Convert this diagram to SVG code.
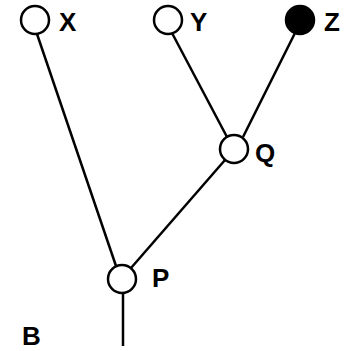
<svg xmlns="http://www.w3.org/2000/svg" width="352" height="351" viewBox="0 0 352 351">
<style>
.n{fill:#fff;stroke:#000;stroke-width:2.5}
.f{fill:#000;stroke:#000;stroke-width:2.5}
.e{stroke:#000;stroke-width:2.5;fill:none}
text{font-family:"Liberation Sans",Arial,sans-serif;font-size:26px;font-weight:bold;fill:#000}
</style>
<rect width="352" height="351" fill="#fff"/>
<g id="connectors">
<line class="e" x1="37" y1="34" x2="116" y2="266"/>
<line class="e" x1="172" y1="33" x2="227" y2="137"/>
<line class="e" x1="295" y1="33" x2="243" y2="137"/>
<line class="e" x1="225" y1="160" x2="131" y2="268"/>
<line class="e" x1="123" y1="292" x2="123" y2="346"/>
</g>
<g id="X"><circle class="n" cx="35" cy="20" r="14"/><text x="59" y="31">X</text></g>
<g id="Y"><circle class="n" cx="168" cy="20" r="14"/><text x="190" y="31">Y</text></g>
<g id="Z"><circle class="f" cx="300" cy="20" r="14"/><text x="324" y="31">Z</text></g>
<g id="Q"><circle class="n" cx="234" cy="149" r="14"/><text x="255" y="162">Q</text></g>
<g id="P"><circle class="n" cx="122" cy="279" r="14"/><text x="152" y="287">P</text></g>
<g id="B"><text x="22" y="345">B</text></g>
</svg>
